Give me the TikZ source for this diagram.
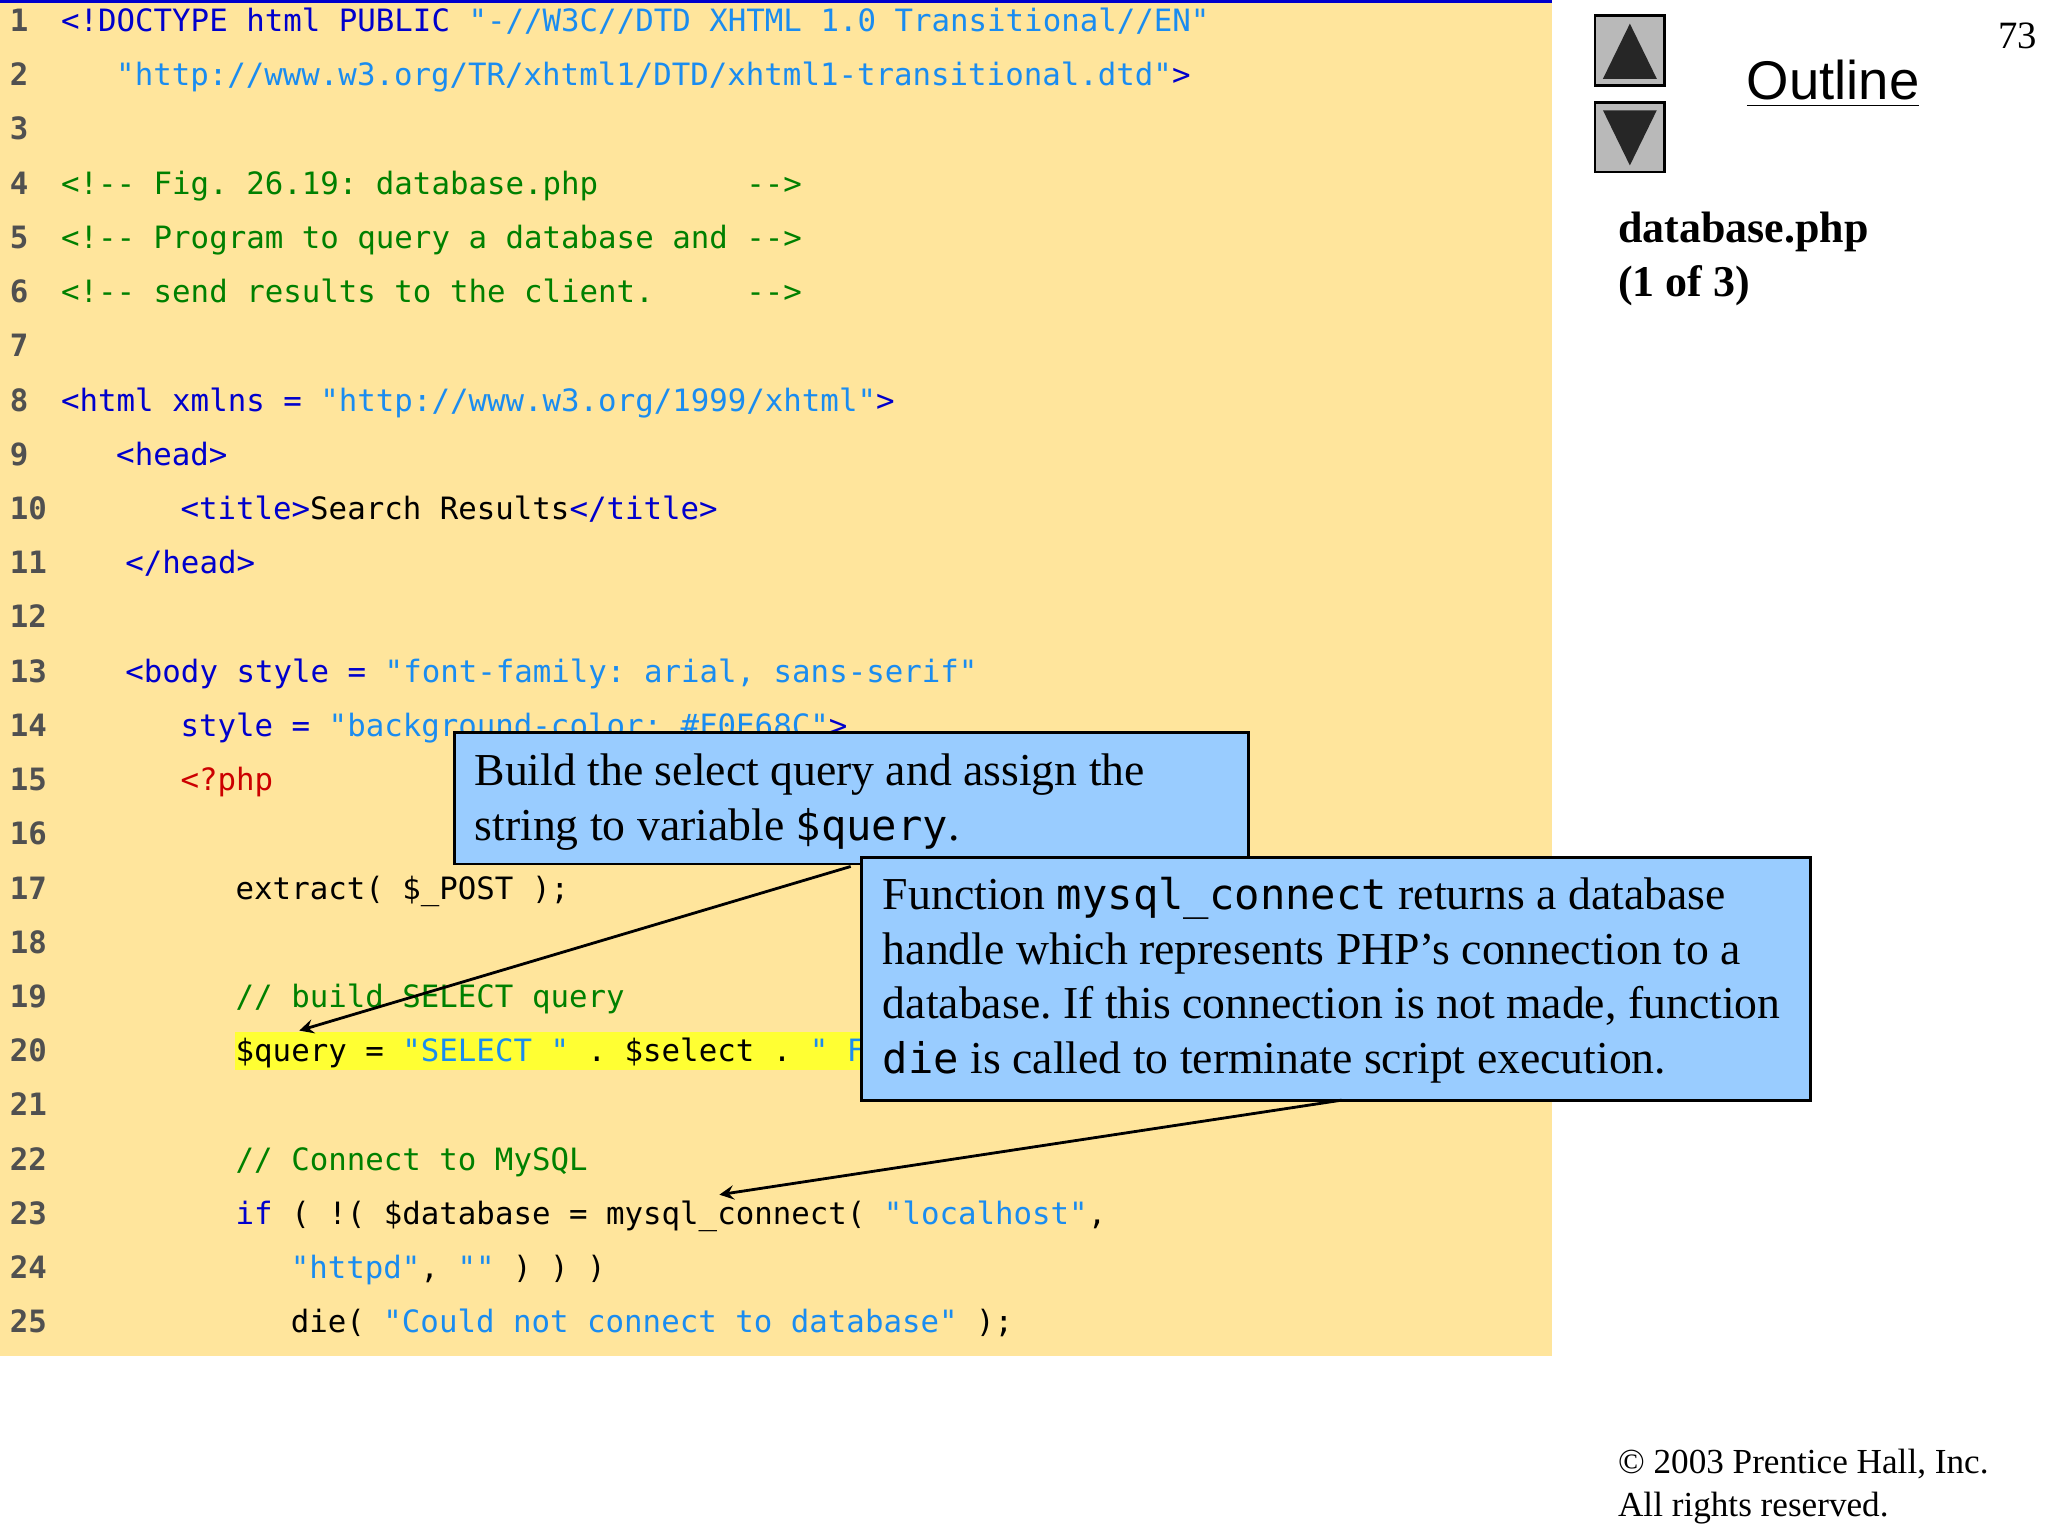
\documentclass[tikz,border=0pt]{standalone}
\usepackage{fontspec}
\setmainfont{Liberation Serif}
\newfontfamily\cf{DejaVu Sans Mono}
\newfontfamily\arialf{Liberation Sans}
\definecolor{bg}{HTML}{FFE59C}
\definecolor{tag}{HTML}{0000CC}
\definecolor{str}{HTML}{1A8CF0}
\definecolor{com}{HTML}{008000}
\definecolor{php}{HTML}{CC0000}
\definecolor{num}{HTML}{505050}
\definecolor{box}{HTML}{99CCFF}
\definecolor{hl}{HTML}{FFFF33}
\newcommand\T[1]{\textcolor{tag}{#1}}
\newcommand\St[1]{\textcolor{str}{#1}}
\newcommand\cln[3]{\node[code] (l#1) at (#2,{16+41.3*(#1-1)+8}) {#3};}
\newcommand\lnum[1]{\node[lnum] (n#1) at (7,{16+41.3*(#1-1)+8}) {#1};}
\frenchspacing
\begin{document}
\frenchspacing
\begin{tikzpicture}[x=0.013128cm,y=-0.013128cm,
  code/.style={anchor=base west,inner sep=0pt,font=\frenchspacing\cf\fontsize{8.75}{10}\selectfont},
  lnum/.style={anchor=base west,inner sep=0pt,text=num,font=\cf\bfseries\fontsize{8.75}{10}\selectfont},
  callout/.style={draw=black,line width=0.8pt,fill=box,anchor=north west,inner sep=0pt},
  ctext/.style={anchor=base west,inner sep=0pt,font=\frenchspacing\fontsize{13}{15.7}\selectfont},
  arr/.style={-stealth,line width=0.8pt}]
\useasboundingbox (0,0) rectangle (1560,1170);
\fill[white] (0,0) rectangle (1560,1170);
\fill[bg] (0,0) rectangle (1182,1033);
\draw[blue!80!black,line width=1.2pt] (0,1) -- (1182,1);
\fill[hl] (179,786) rectangle (660,815);
\foreach \i in {1,...,25}{\lnum{\i}}
\cln{1}{46}{\T{<!DOCTYPE html PUBLIC} \St{"-//W3C//DTD XHTML 1.0 Transitional//EN"}}
\cln{2}{88}{\St{"http://www.w3.org/TR/xhtml1/DTD/xhtml1-transitional.dtd"}\T{>}}
\cln{4}{46}{\textcolor{com}{<!-{}- Fig. 26.19: database.php}}
\cln{5}{46}{\textcolor{com}{<!-{}- Program to query a database and}}
\cln{6}{46}{\textcolor{com}{<!-{}- send results to the client.}}
\node[code,text=com] (e4) at (568,{16+41.3*3+8}) {-{}->};
\node[code,text=com] (e5) at (568,{16+41.3*4+8}) {-{}->};
\node[code,text=com] (e6) at (568,{16+41.3*5+8}) {-{}->};
\cln{8}{46}{\T{<html xmlns =} \St{"http://www.w3.org/1999/xhtml"}\T{>}}
\cln{9}{88}{\T{<head>}}
\cln{10}{137}{\T{<title>}Search Results\T{</title>}}
\cln{11}{95}{\T{</head>}}
\cln{13}{95}{\T{<body style =} \St{"font-family: arial, sans-serif"}}
\cln{14}{137}{\T{style =} \St{"background-color: \#F0E68C"}\T{>}}
\cln{15}{137}{\textcolor{php}{<?php}}
\cln{17}{179}{extract( \$\_POST );}
\cln{19}{179}{\textcolor{com}{// build SELECT query}}
\cln{20}{179}{\$query = \St{"SELECT "} . \$select . \St{" F}}
\cln{22}{179}{\textcolor{com}{// Connect to MySQL}}
\cln{23}{179}{\T{if} ( !( \$database = mysql\_connect( \St{"localhost"},}
\cln{24}{221}{\St{"httpd"}, \St{""} ) ) )}
\cln{25}{221}{die( \St{"Could not connect to database"} );}
% callouts
\node[callout,minimum width={605*0.013128cm},minimum height={100*0.013128cm}] (c1) at (345,557) {};
\node[ctext] (c1a) at (361,598) {Build the select query and assign the};
\node[ctext] (c1b) at (361,640) {string to variable {\cf\fontsize{12}{14}\selectfont\$query}.};
\node[callout,minimum width={723*0.013128cm},minimum height={185*0.013128cm}] (c2) at (655,652) {};
\node[ctext] (c2a) at (672,693) {Function {\cf\fontsize{12}{14}\selectfont mysql\_connect} returns a database};
\node[ctext] (c2b) at (672,735) {handle which represents PHP’s connection to a};
\node[ctext] (c2c) at (672,776) {database. If this connection is not made, function};
\node[ctext] (c2d) at (672,818) {{\cf\fontsize{12}{14}\selectfont die} is called to terminate script execution.};
\coordinate (a1s) at (648,660); \coordinate (a1e) at (228,785);
\coordinate (a2s) at (1022,838); \coordinate (a2e) at (548,910);
\draw[arr] (a1s) -- (a1e);
\draw[arr] (a2s) -- (a2e);
% side
\node[draw=black,fill=gray!55,minimum size={53*0.013128cm},inner sep=0pt,line width=0.8pt] (up) at (1241.5,38.5) {};
\node[draw=black,fill=gray!55,minimum size={53*0.013128cm},inner sep=0pt,line width=0.8pt] (dn) at (1241.5,104.5) {};
\fill[gray!30!black] (1221,60) -- (1262,60) -- (1241.5,18) -- cycle;
\fill[gray!30!black] (1221,84) -- (1262,84) -- (1241.5,126) -- cycle;
\node[anchor=base west,inner sep=0pt,font=\arialf\fontsize{15.5}{18}\selectfont] (out) at (1330,76) {\underline{Outline}};
\node[anchor=base east,inner sep=0pt,font=\fontsize{11}{13}\selectfont] (pg) at (1552,37) {73};
\node[anchor=base west,inner sep=0pt,font=\bfseries\fontsize{12.5}{15}\selectfont] (fn) at (1232,185) {database.php};
\node[anchor=base west,inner sep=0pt,font=\bfseries\fontsize{12.5}{15}\selectfont] (pp) at (1232,226) {(1 of 3)};
\node[anchor=base west,inner sep=0pt,font=\fontsize{10}{12}\selectfont] (cp) at (1232,1122) {© 2003 Prentice Hall, Inc.};
\node[anchor=base west,inner sep=0pt,font=\fontsize{10}{12}\selectfont] (ar) at (1232,1155) {All rights reserved.};
\end{tikzpicture}
\end{document}
